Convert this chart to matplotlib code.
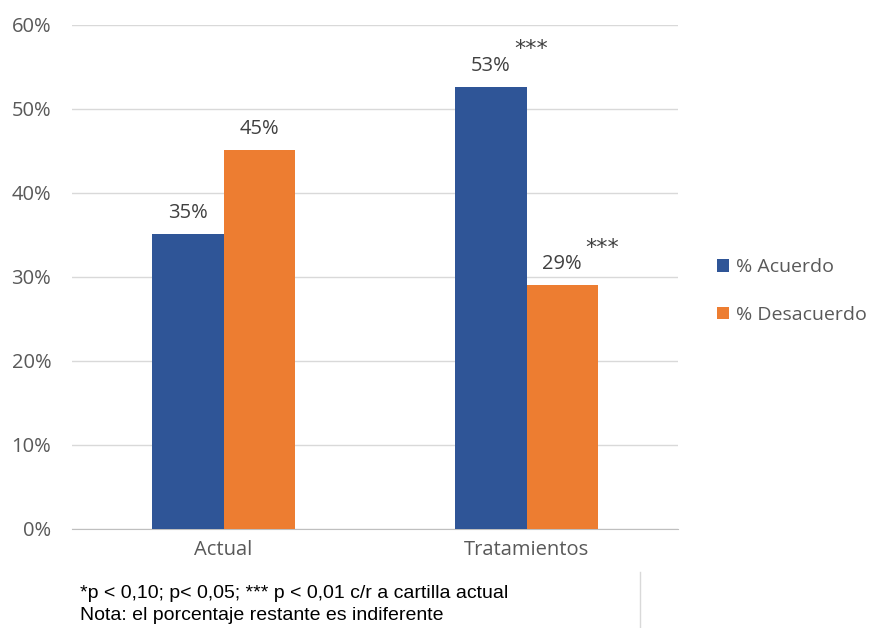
import matplotlib
matplotlib.use("Agg")
import matplotlib.pyplot as plt
from matplotlib.lines import Line2D
import numpy as np

categories = ["Actual", "Tratamientos"]
series_names = ["% Acuerdo", "% Desacuerdo"]
acuerdo = [35.1, 52.6]
desacuerdo = [45.1, 29.0]
acuerdo_labels = ["35%", "53%"]
desacuerdo_labels = ["45%", "29%"]
acuerdo_stars = ["", "***"]
desacuerdo_stars = ["", "***"]
yticks = [0, 10, 20, 30, 40, 50, 60]
ytick_labels = ["0%", "10%", "20%", "30%", "40%", "50%", "60%"]
footnotes = ["*p < 0,10; p< 0,05; *** p < 0,01 c/r a cartilla actual",
             "Nota: el porcentaje restante es indiferente"]

blue = "#2F5597"
orange = "#ED7D31"
txt = "#595959"
font = "Open Sans"
fs = 14.5

fig = plt.figure(figsize=(8.75, 6.28), dpi=100)
ax = fig.add_axes([72/875, 1-529/628, 606/875, 504/628])

x = np.arange(len(categories))
w = 0.235
b1 = ax.bar(x - w/2, acuerdo, w, color=blue, label=series_names[0], zorder=3)
b2 = ax.bar(x + w/2, desacuerdo, w, color=orange, label=series_names[1], zorder=3)

for bars, labs, stars in [(b1, acuerdo_labels, acuerdo_stars), (b2, desacuerdo_labels, desacuerdo_stars)]:
    for r, lab, st in zip(bars, labs, stars):
        cx = r.get_x() + r.get_width()/2
        h = r.get_height()
        ax.annotate(lab, (cx, h), xytext=(0, 8), textcoords="offset points",
                    ha="center", va="bottom", fontsize=fs, color="#404040", family=font)
        if st:
            ax.annotate(st, (cx, h), xytext=(17, 20), textcoords="offset points",
                        ha="left", va="bottom", fontsize=16, color="#404040",
                        family="DejaVu Sans")

ax.set_xlim(-0.5, 1.5)
ax.set_ylim(0, 60)
ax.set_yticks(yticks)
ax.set_yticklabels(ytick_labels, family=font, fontsize=fs, color=txt)
ax.set_xticks(x)
ax.set_xticklabels(categories, family=font, fontsize=fs, color=txt)
ax.tick_params(axis="x", length=0, pad=8)
ax.tick_params(axis="y", length=0, pad=15)
ax.yaxis.grid(True, color="#d9d9d9", linewidth=1, zorder=0)
ax.set_axisbelow(True)
for s in ["top", "right", "left"]:
    ax.spines[s].set_visible(False)
ax.spines["bottom"].set_color("#bfbfbf")

leg = fig.legend(handles=[b1, b2], labels=series_names, loc="center left",
                 bbox_to_anchor=(717/875, 1-291/628), frameon=False, borderaxespad=0,
                 borderpad=0, prop={"family": font, "size": 14},
                 handlelength=0.6, handleheight=0.6,
                 handletextpad=0.4, labelspacing=1.5, labelcolor=txt)

fig.text(80/875, 1-593/628, footnotes[0], family="Liberation Sans", fontsize=14,
         color="black", va="center", ha="left")
fig.text(80/875, 1-615/628, footnotes[1], family="Liberation Sans", fontsize=14,
         color="black", va="center", ha="left")
fig.add_artist(Line2D([640/875, 640/875], [0, 1-572/628], color="#d9d9d9", linewidth=1,
                      transform=fig.transFigure))

fig.savefig("out.png", dpi=100)
